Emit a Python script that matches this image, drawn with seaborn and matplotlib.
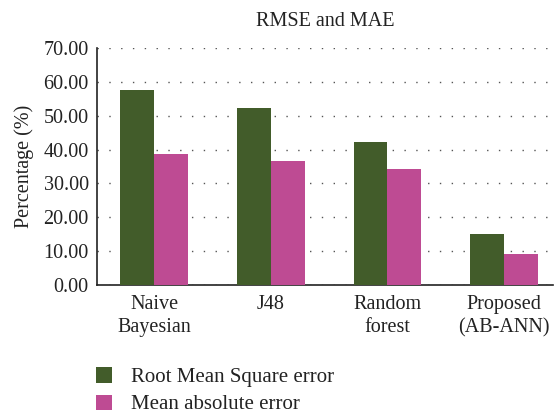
import pandas as pd
import matplotlib
matplotlib.use('Agg')
import matplotlib.pyplot as plt
import seaborn as sns
from matplotlib.patches import Patch

categories = ['Naive\nBayesian', 'J48', 'Random\nforest', 'Proposed\n(AB-ANN)']
series_names = ['Root Mean Square error', 'Mean absolute error']
rmse = [57.7, 52.4, 42.3, 15.1]
mae = [38.8, 36.6, 34.3, 9.2]
yticks = [0, 10, 20, 30, 40, 50, 60, 70]
colors = ['#425C2A', '#BE4B93']

df = pd.DataFrame({
    'method': categories * 2,
    'metric': [series_names[0]] * 4 + [series_names[1]] * 4,
    'value': rmse + mae,
})

sns.set_style('white')
plt.rcParams['font.family'] = ['Liberation Serif', 'DejaVu Serif']

fig = plt.figure(figsize=(5.58, 4.13), dpi=100)
ax = fig.add_axes([97 / 558, 1 - 285 / 413, 456 / 558, 237 / 413])

sns.barplot(data=df, x='method', y='value', hue='metric', palette=colors,
            width=0.58, gap=0, saturation=1, linewidth=0, ax=ax, legend=False, zorder=3)

ax.set_xlim(-0.49, 3.42)
ax.set_ylim(0, 70)
ax.set_yticks(yticks)
ax.set_yticklabels([f'{v:.2f}' for v in yticks], fontsize=14.5, color='#222222')
ax.tick_params(axis='x', labelsize=14.5, colors='#222222', length=0, pad=7)
ax.tick_params(axis='y', length=0, pad=6)
for lbl in ax.get_xticklabels():
    lbl.set_linespacing(1.3)
ax.set_xlabel('')
ax.set_ylabel('Percentage (%)', fontsize=14.5, color='#222222', labelpad=7)
ax.set_title('RMSE and MAE', fontsize=14.5, color='#222222', pad=16)

ax.yaxis.grid(True, linestyle=(0, (1, 7.5)), color='#555555', linewidth=1.0, zorder=0)
ax.set_axisbelow(True)
for s in ['top', 'right']:
    ax.spines[s].set_visible(False)
for s in ['left', 'bottom']:
    ax.spines[s].set_color('#222222')
    ax.spines[s].set_linewidth(1.2)

handles = [Patch(facecolor=c, edgecolor='none') for c in colors]
fig.legend(handles, series_names, loc='upper left', bbox_to_anchor=(88 / 558, 1 - 359 / 413),
           frameon=False, fontsize=15, handlelength=0.75, handleheight=0.75,
           handletextpad=0.9, labelspacing=0.35, labelcolor='#222222', borderaxespad=0)

fig.savefig('out.png', dpi=100)
